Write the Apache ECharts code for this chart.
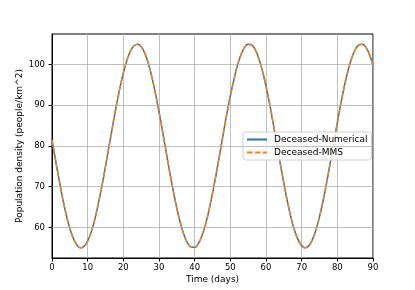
<!DOCTYPE html>
<html>
<head>
<meta charset="utf-8">
<script src="https://cdn.jsdelivr.net/npm/echarts@6/dist/echarts.min.js"></script>
<style>html,body{margin:0;padding:0;background:#fff}#c{width:415px;height:290px}</style>
</head>
<body>
<div id="c"></div>
<script>
const days = [0,1,2,3,4,5,6,7,8,9,10,11,12,13,14,15,16,17,18,19,20,21,22,23,24,25,26,27,28,29,30,31,32,33,34,35,36,37,38,39,40,41,42,43,44,45,46,47,48,49,50,51,52,53,54,55,56,57,58,59,60,61,62,63,64,65,66,67,68,69,70,71,72,73,74,75,76,77,78,79,80,81,82,83,84,85,86,87,88,89,90];
const deceasedNumerical = [81.5,76.5,71.7,67.1,63.1,59.8,57.3,55.7,55.0,55.4,56.7,58.9,62.0,65.9,70.2,75.0,80.0,84.9,89.7,94.1,97.9,101.0,103.3,104.6,105.0,104.4,102.8,100.3,96.9,92.9,88.4,83.6,78.6,73.6,69.0,64.7,61.1,58.2,56.2,55.2,55.1,56.0,57.9,60.6,64.2,68.4,73.0,77.9,82.9,87.8,92.3,96.3,99.8,102.4,104.2,105.0,104.8,103.6,101.4,98.4,94.7,90.4,85.6,80.7,75.7,70.9,66.4,62.5,59.3,57.0,55.5,55.0,55.5,57.0,59.4,62.6,66.5,71.0,75.8,80.8,85.7,90.5,94.8,98.5,101.5,103.6,104.8,105.0,104.2,102.5,99.8];
const deceasedMMS = [81.5,76.5,71.7,67.1,63.1,59.8,57.3,55.7,55.0,55.4,56.7,58.9,62.0,65.9,70.2,75.0,80.0,84.9,89.7,94.1,97.9,101.0,103.3,104.6,105.0,104.4,102.8,100.3,96.9,92.9,88.4,83.6,78.6,73.6,69.0,64.7,61.1,58.2,56.2,55.2,55.1,56.0,57.9,60.6,64.2,68.4,73.0,77.9,82.9,87.8,92.3,96.3,99.8,102.4,104.2,105.0,104.8,103.6,101.4,98.4,94.7,90.4,85.6,80.7,75.7,70.9,66.4,62.5,59.3,57.0,55.5,55.0,55.5,57.0,59.4,62.6,66.5,71.0,75.8,80.8,85.7,90.5,94.8,98.5,101.5,103.6,104.8,105.0,104.2,102.5,99.8];
const yTicks = [60,70,80,90,100];
const seriesNames = ['Deceased-Numerical','Deceased-MMS'];

const font = 'DejaVu Sans';
const chart = echarts.init(document.getElementById('c'), null, {renderer:'canvas'});
chart.setOption({
  animation: false,
  textStyle: {fontFamily: font},
  grid: {left: 52, right: 42, top: 34, bottom: 32, show: true, borderColor: '#000', borderWidth: 1, backgroundColor: 'transparent', containLabel: false},
  legend: {
    orient: 'vertical', left: 243, top: 132,
    data: seriesNames,
    itemWidth: 20, itemHeight: 9, itemGap: 4,
    padding: [3, 4, 3, 3],
    borderColor: '#d0d0d0', borderWidth: 1, borderRadius: 3,
    backgroundColor: 'rgba(255,255,255,0.8)',
    itemStyle: {opacity: 0},
    textStyle: {fontFamily: font, fontSize: 9, color: '#000', padding: [0,0,0,2]}
  },
  xAxis: {
    type: 'value', min: 0, max: 90, interval: 10,
    name: 'Time (days)', nameLocation: 'middle', nameGap: 17.5,
    nameMoveOverlap: false,
    nameTextStyle: {fontFamily: font, fontSize: 9, color: '#000'},
    axisLine: {show: true, onZero: false, lineStyle: {color: '#000', width: 1}},
    axisTick: {show: true, inside: false, length: 3.5, lineStyle: {color: '#000'}},
    axisLabel: {fontFamily: font, fontSize: 8.5, color: '#000', margin: 5},
    splitLine: {show: true, lineStyle: {color: '#b0b0b0', width: 0.8}}
  },
  yAxis: {
    type: 'value', min: 52.5, max: 107.5,
    name: 'Population density (people/km^2)', nameLocation: 'middle', nameGap: 28,
    nameMoveOverlap: false,
    nameTextStyle: {fontFamily: font, fontSize: 9, color: '#000'},
    axisLine: {show: true, onZero: false, lineStyle: {color: '#000', width: 1}},
    axisTick: {show: true, inside: false, length: 3.5, lineStyle: {color: '#000'}, customValues: yTicks},
    axisLabel: {fontFamily: font, fontSize: 8.5, color: '#000', margin: 7, customValues: yTicks},
    splitLine: {show: false}
  },
  series: [
    {
      name: seriesNames[0], type: 'line', showSymbol: false, symbol: 'none', smooth: true,
      data: days.map((d, i) => [d, deceasedNumerical[i]]),
      lineStyle: {color: '#1f77b4', width: 1.5},
      itemStyle: {color: '#1f77b4'},
      markLine: {
        silent: true, symbol: 'none', label: {show: false},
        lineStyle: {color: '#b0b0b0', width: 0.8, type: 'solid'},
        data: yTicks.map(v => ({yAxis: v}))
      },
      z: 2
    },
    {
      name: seriesNames[1], type: 'line', showSymbol: false, symbol: 'none', smooth: true,
      data: days.map((d, i) => [d, deceasedMMS[i]]),
      lineStyle: {color: '#ff7f0e', width: 1.5, type: [5.5, 2.4]},
      itemStyle: {color: '#ff7f0e'},
      z: 3
    }
  ]
});
</script>
</body>
</html>
